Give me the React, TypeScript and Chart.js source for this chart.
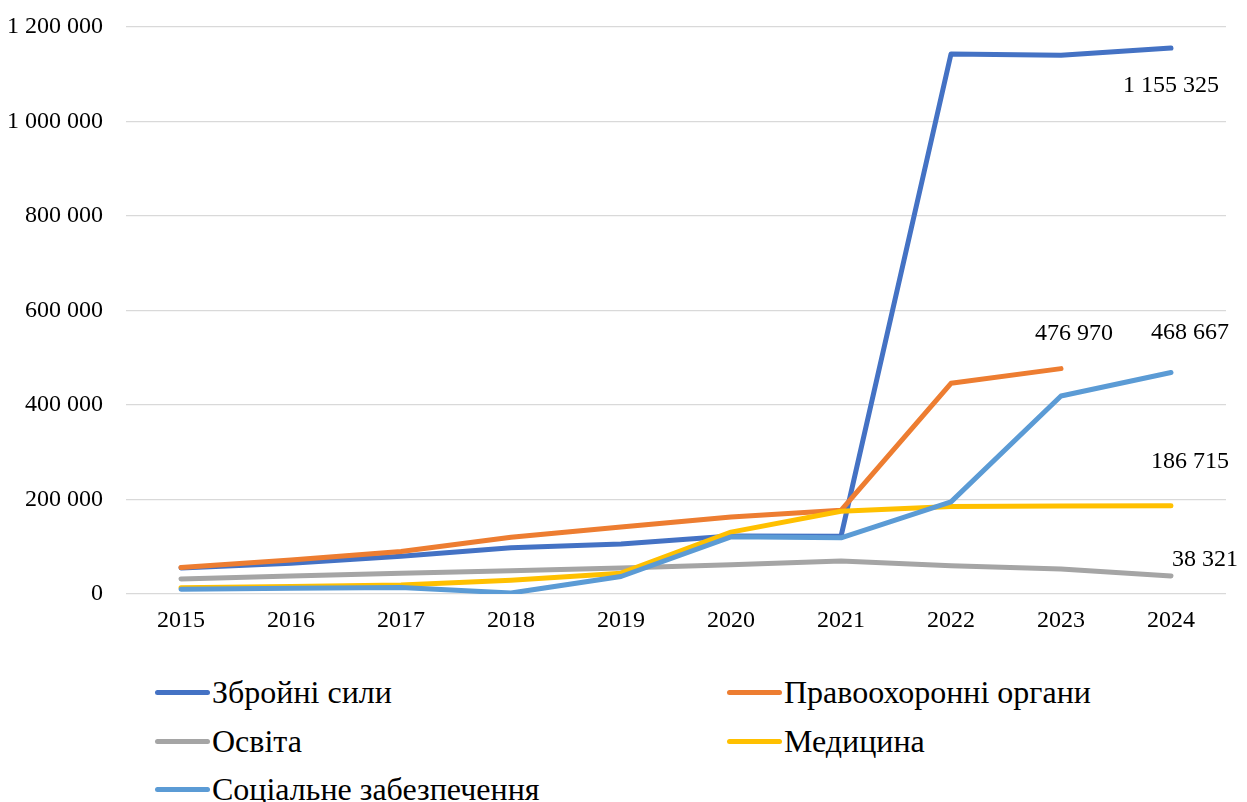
import React, { useEffect, useRef } from "react";
import { Chart, registerables } from "chart.js";

Chart.register(...registerables);

const years = ["2015", "2016", "2017", "2018", "2019", "2020", "2021", "2022", "2023", "2024"];
const seriesNames = [
  "Збройні сили",
  "Правоохоронні органи",
  "Освіта",
  "Медицина",
  "Соціальне забезпечення",
];
const armedForces = [55000, 65000, 80000, 98000, 106000, 123000, 122000, 1143000, 1140000, 1155325];
const lawEnforcement = [56000, 72000, 90000, 120000, 142000, 163000, 177000, 446000, 476970, null];
const education = [32000, 38000, 44000, 49000, 55000, 62000, 70000, 60000, 53000, 38321];
const medicine = [13000, 16000, 19000, 29000, 44000, 131000, 175000, 185000, 186000, 186715];
const socialSecurity = [10000, 12000, 14000, 2000, 37000, 121000, 119000, 195000, 419000, 468667];
const yTicks = [0, 200000, 400000, 600000, 800000, 1000000, 1200000];

const colors = ["#4472C4", "#ED7D31", "#A5A5A5", "#FFC000", "#5B9BD5"];
// label offsets (dx, dy) from last point, per series
const labelOffsets = [
  [0, 38],
  [13, -35],
  [34, -16],
  [19, -44],
  [19, -40],
];

const FONT = "'Liberation Serif', 'Times New Roman', serif";

const fmt = (v: number) => String(v).replace(/\B(?=(\d{3})+(?!\d))/g, " ");

const lastLabelPlugin = {
  id: "lastLabel",
  afterDatasetsDraw(chart: any) {
    const ctx = chart.ctx;
    ctx.save();
    ctx.font = `24px ${FONT}`;
    ctx.fillStyle = "#000";
    ctx.textAlign = "center";
    ctx.textBaseline = "middle";
    chart.data.datasets.forEach((ds: any, di: number) => {
      const meta = chart.getDatasetMeta(di);
      let idx = -1;
      for (let i = ds.data.length - 1; i >= 0; i--) {
        if (ds.data[i] !== null && ds.data[i] !== undefined) { idx = i; break; }
      }
      if (idx < 0) return;
      const pt = meta.data[idx];
      const [dx, dy] = labelOffsets[di];
      ctx.fillText(fmt(ds.data[idx]), pt.x + dx, pt.y + dy);
    });
    ctx.restore();
  },
};

export default function App() {
  const canvasRef = useRef<HTMLCanvasElement | null>(null);

  useEffect(() => {
    if (!canvasRef.current) return;
    const dataArrays = [armedForces, lawEnforcement, education, medicine, socialSecurity];
    const chart = new Chart(canvasRef.current, {
      type: "line",
      data: {
        labels: years,
        datasets: dataArrays.map((d, i) => ({
          label: seriesNames[i],
          data: d,
          borderColor: colors[i],
          backgroundColor: colors[i],
          borderWidth: 5,
          pointRadius: 0,
          pointHoverRadius: 0,
          tension: 0,
          fill: false,
          spanGaps: false,
          borderCapStyle: "round",
          borderJoinStyle: "round",
          order: dataArrays.length - i,
        })),
      },
      options: {
        animation: false,
        responsive: false,
        maintainAspectRatio: false,
        layout: { padding: { top: 27, right: 21, bottom: 10, left: 0 } },
        plugins: {
          legend: { display: false },
          tooltip: { enabled: false },
        },
        scales: {
          x: {
            offset: true,
            grid: { display: false, drawTicks: false },
            border: { display: false },
            ticks: {
              color: "#000",
              font: { family: FONT, size: 24 },
              padding: 12,
              maxRotation: 0,
            },
            afterFit: (s: any) => { s.height = 46; s.paddingLeft = 0; s.paddingRight = 0; },
          },
          y: {
            min: 0,
            max: 1200000,
            afterBuildTicks: (s: any) => { s.ticks = yTicks.map((v) => ({ value: v })); },
            grid: { color: "#D9D9D9", lineWidth: 1.3, drawTicks: false },
            border: { display: false },
            ticks: {
              color: "#000",
              font: { family: FONT, size: 24 },
              padding: 23,
              callback: (v: any) => fmt(Number(v)),
            },
            afterFit: (s: any) => { s.width = 126; s.paddingTop = 0; s.paddingBottom = 0; },
          },
        },
      },
      plugins: [lastLabelPlugin],
    });
    return () => chart.destroy();
  }, []);

  const legendItem = (i: number, left: number, top: number) => (
    <div
      key={i}
      style={{
        position: "absolute",
        left,
        top,
        display: "flex",
        alignItems: "center",
        height: 40,
        fontFamily: FONT,
        fontSize: 32,
        color: "#000",
        whiteSpace: "nowrap",
      }}
    >
      <span
        style={{
          display: "inline-block",
          width: 55,
          height: 5,
          borderRadius: 3,
          background: colors[i],
          marginRight: 2,
        }}
      />
      <span>{seriesNames[i]}</span>
    </div>
  );

  return (
    <div
      style={{
        position: "fixed",
        left: 0,
        top: 0,
        width: 1247,
        height: 802,
        background: "#fff",
        overflow: "hidden",
      }}
    >
      <canvas ref={canvasRef} width={1247} height={650} style={{ display: "block" }} />
      {legendItem(0, 155, 672)}
      {legendItem(1, 727, 672)}
      {legendItem(2, 155, 721)}
      {legendItem(3, 727, 721)}
      {legendItem(4, 155, 769)}
    </div>
  );
}
